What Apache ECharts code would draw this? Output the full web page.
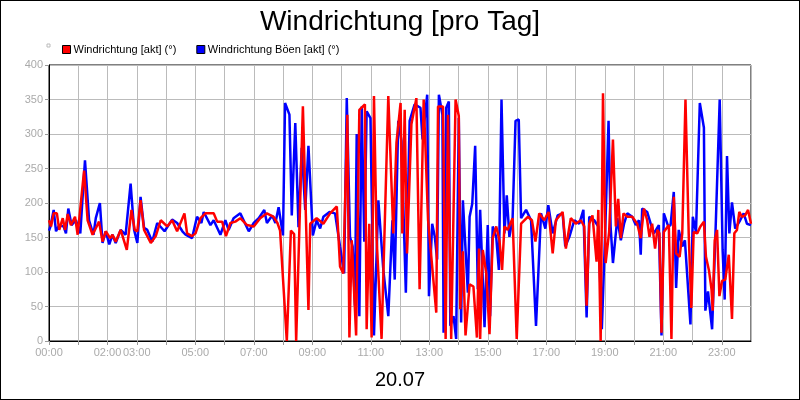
<!DOCTYPE html>
<html><head><meta charset="utf-8">
<script src="https://cdn.jsdelivr.net/npm/echarts@6/dist/echarts.min.js"></script>
<style>html,body{margin:0;padding:0;background:#fff}#c{width:800px;height:400px;box-sizing:border-box;border:1px solid #000}</style>
</head><body><div id="c"></div>
<script>
const title = 'Windrichtung [pro Tag]';
const dateLabel = '20.07';
const seriesNames = ['Windrichtung [akt] (°)', 'Windrichtung Böen [akt] (°)'];
const tickLabels = {0:'00:00',2:'02:00',3:'03:00',5:'05:00',7:'07:00',9:'09:00',11:'11:00',13:'13:00',15:'15:00',17:'17:00',19:'19:00',21:'21:00',23:'23:00'};

const redH = [0,0.07,0.16,0.27,0.35,0.47,0.55,0.64,0.75,0.89,0.98,1.2,1.32,1.49,1.71,1.83,1.94,2.09,2.17,2.28,2.45,2.66,2.82,2.93,3.02,3.13,3.25,3.48,3.65,3.82,4.04,4.21,4.38,4.63,4.72,4.89,5.01,5.18,5.35,5.63,5.75,5.92,6.05,6.2,6.37,6.54,6.77,7.0,7.22,7.45,7.68,7.81,7.9,8.13,8.27,8.38,8.45,8.68,8.87,8.93,9.15,9.38,9.61,9.84,9.95,10.06,10.2,10.27,10.35,10.5,10.61,10.8,10.86,10.95,11.03,11.11,11.2,11.37,11.6,11.77,11.88,12.02,12.08,12.16,12.24,12.39,12.56,12.67,12.81,12.96,13.24,13.3,13.47,13.56,13.64,13.75,13.9,14.01,14.06,14.15,14.24,14.38,14.51,14.63,14.7,14.74,14.83,14.95,15.06,15.17,15.29,15.4,15.49,15.57,15.68,15.85,15.99,16.14,16.37,16.51,16.63,16.76,16.93,17.08,17.22,17.33,17.56,17.67,17.84,18.01,18.18,18.3,18.38,18.47,18.58,18.72,18.78,18.86,18.94,19.03,19.15,19.28,19.38,19.46,19.55,19.64,19.77,19.94,20.11,20.23,20.34,20.45,20.53,20.62,20.72,20.8,20.87,20.94,21.02,21.19,21.28,21.36,21.44,21.56,21.65,21.76,21.87,21.96,22.04,22.16,22.27,22.39,22.46,22.56,22.65,22.69,22.76,22.84,22.92,23.01,23.12,23.24,23.35,23.43,23.52,23.6,23.69,23.8,23.9,24];
const redV = [175,166,185,185,161,178,161,184,168,180,154,247,175,154,173,144,159,149,154,144,161,132,190,161,159,204,161,142,152,175,166,175,159,185,156,152,156,178,185,185,173,173,152,171,173,178,168,166,178,185,180,171,160,0,160,155,0,340,45,170,178,170,185,195,108,98,328,5,146,8,335,343,17,170,5,355,149,3,355,156,288,345,156,335,127,314,352,75,350,175,41,340,340,3,328,3,350,326,46,130,8,82,79,5,134,3,132,98,10,149,166,146,103,166,161,178,3,170,180,175,144,185,175,187,127,175,187,134,178,170,175,166,51,170,182,115,190,0,359,113,158,292,166,206,149,185,180,180,170,149,192,175,151,170,134,161,156,12,158,168,3,209,127,122,156,350,156,48,158,156,166,173,122,103,75,44,146,161,65,87,89,125,32,156,161,187,180,182,190,170];

const blueH = [0,0.05,0.16,0.24,0.35,0.5,0.58,0.66,0.77,0.92,1.07,1.23,1.37,1.52,1.6,1.74,1.83,1.94,2.06,2.17,2.28,2.45,2.62,2.79,2.91,3.02,3.13,3.25,3.36,3.53,3.7,3.95,4.21,4.38,4.56,4.67,4.89,5.06,5.21,5.29,5.52,5.63,5.86,6.03,6.14,6.31,6.54,6.83,7.0,7.17,7.36,7.45,7.63,7.74,7.85,8.0,8.07,8.22,8.3,8.42,8.53,8.64,8.76,8.87,9.02,9.15,9.27,9.38,9.59,9.78,9.95,10.09,10.18,10.29,10.38,10.46,10.52,10.61,10.69,10.78,10.86,10.99,11.11,11.26,11.43,11.6,11.74,11.82,11.94,12.05,12.2,12.33,12.5,12.7,12.77,12.93,12.99,13.1,13.19,13.27,13.33,13.45,13.49,13.58,13.67,13.72,13.83,13.92,14.01,14.09,14.15,14.32,14.38,14.47,14.57,14.66,14.74,14.89,15.0,15.08,15.17,15.29,15.38,15.47,15.57,15.65,15.74,15.85,15.95,16.06,16.14,16.31,16.48,16.65,16.82,16.97,17.07,17.22,17.39,17.56,17.65,17.79,17.96,18.13,18.27,18.38,18.47,18.64,18.78,18.9,19.01,19.13,19.2,19.28,19.43,19.55,19.66,19.77,19.94,20.06,20.17,20.23,20.28,20.45,20.57,20.68,20.85,20.94,21.02,21.17,21.25,21.36,21.44,21.53,21.65,21.74,21.93,22.01,22.12,22.25,22.39,22.44,22.53,22.67,22.78,22.93,23.03,23.1,23.18,23.26,23.35,23.46,23.63,23.75,23.86,24];
const blueV = [160,166,190,159,168,166,156,192,168,175,156,262,175,154,178,200,142,159,140,154,142,161,154,228,161,142,209,164,161,144,171,159,176,171,159,154,149,180,171,187,168,175,154,175,161,178,185,159,171,178,190,171,182,171,194,153,345,328,182,316,165,280,190,283,153,175,163,180,187,185,137,98,352,151,137,51,300,36,340,144,333,323,8,204,103,36,175,89,319,290,70,319,343,338,292,357,65,170,151,118,357,328,12,338,347,22,36,3,323,27,204,70,180,199,283,75,190,20,168,36,166,151,103,350,156,211,151,178,319,321,178,190,175,22,185,163,197,156,182,185,137,151,175,170,190,34,180,175,166,17,151,319,166,113,178,146,170,185,180,168,175,125,192,187,170,156,168,8,185,166,168,216,77,161,137,146,24,180,158,345,309,44,72,17,149,350,132,60,268,156,201,163,175,185,170,168];

const zip = (h, v) => h.map((x, i) => [x, v[i]]);
const chart = echarts.init(document.getElementById('c'));
const axisText = {color:'#aaaaaa', fontSize:11, fontFamily:'Liberation Sans'};
chart.setOption({
  animation:false,
  title:[{text:title,left:'center',top:2,textStyle:{fontFamily:'Liberation Sans',fontSize:28,fontWeight:'normal',color:'#000'}},
         {text:dateLabel,left:'center',top:364,textStyle:{fontFamily:'Liberation Sans',fontSize:20,fontWeight:'normal',color:'#000'}}],
  legend:{left:56,top:38,itemWidth:8,itemHeight:8,itemGap:20,icon:'rect',
    textStyle:{fontFamily:'Liberation Sans',fontSize:11,color:'#000',padding:[0,0,0,-2]},
    data:seriesNames.map(n=>({name:n,itemStyle:{borderColor:'#000',borderWidth:1}}))},
  graphic:[{type:'rect',shape:{x:46,y:43,width:3,height:3},style:{fill:'#fff',stroke:'#bbb',lineWidth:1}}],
  grid:{left:48,right:48,top:64,bottom:58,show:true,borderColor:'#000',borderWidth:1},
  xAxis:{type:'value',min:0,max:24,interval:1,
    axisLine:{lineStyle:{color:'#000'}},axisTick:{show:true,lineStyle:{color:'#999'},length:4},
    splitLine:{lineStyle:{color:'#bbbbbb'}},
    axisLabel:{...axisText,margin:6,showMaxLabel:false,formatter:v=>tickLabels[v]||''}},
  yAxis:{type:'value',min:0,max:400,interval:50,
    axisLine:{show:true,lineStyle:{color:'#000'}},axisTick:{show:true,lineStyle:{color:'#999'},length:4},
    splitLine:{lineStyle:{color:'#bbbbbb'}},axisLabel:{...axisText,margin:6}},
  series:[
    {name:seriesNames[1],type:'line',data:zip(blueH,blueV),showSymbol:false,lineStyle:{color:'#0000ff',width:2.5},itemStyle:{color:'#0000ff'},z:2},
    {name:seriesNames[0],type:'line',data:zip(redH,redV),showSymbol:false,lineStyle:{color:'#ff0000',width:2.5},itemStyle:{color:'#ff0000'},z:3}
  ]
});
</script></body></html>
